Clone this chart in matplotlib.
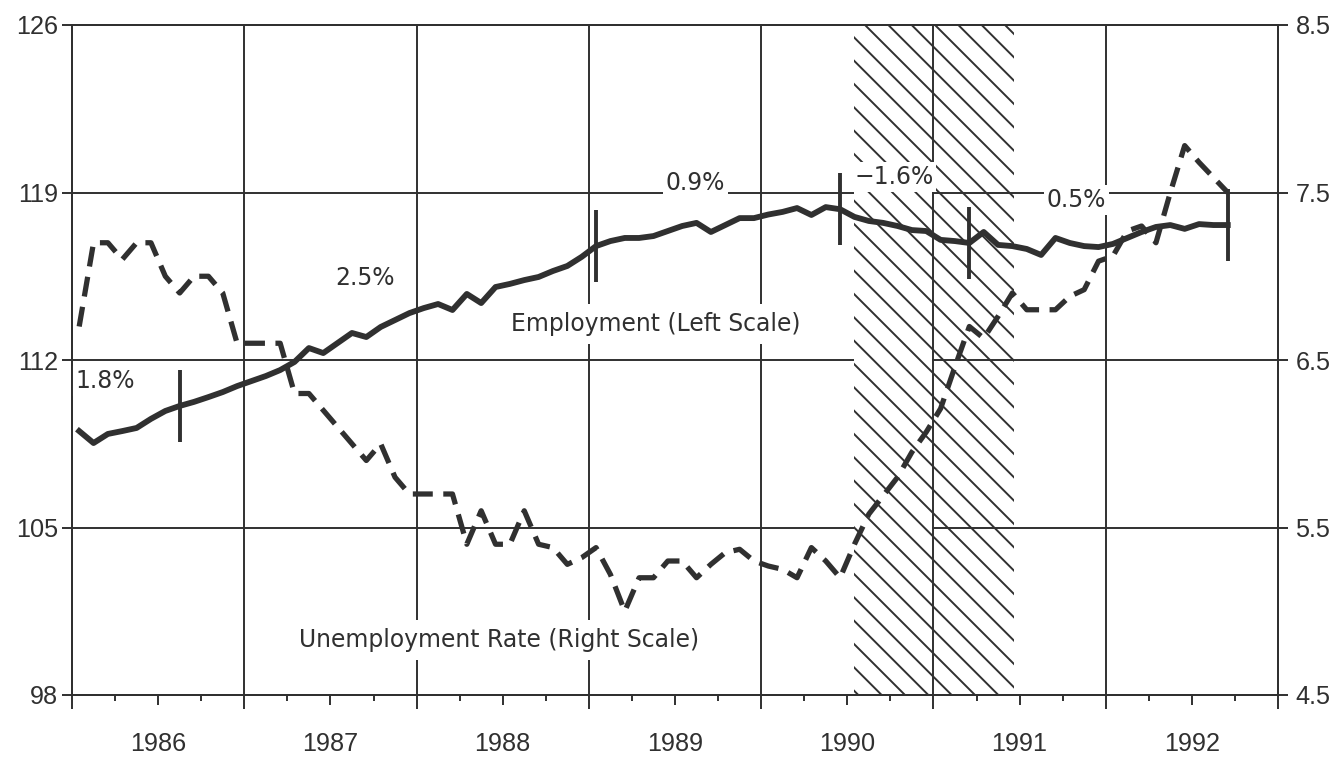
import numpy as np
import pandas as pd
import matplotlib
matplotlib.use("Agg")
import matplotlib.pyplot as plt
from matplotlib.ticker import NullFormatter, FormatStrFormatter

# civilian employment, millions (left scale), Jan 1986 - Sep 1992
emp_1986 = [109.03, 108.53, 108.91, 109.03, 109.16, 109.54, 109.87, 110.08, 110.25, 110.45, 110.66, 110.91]
emp_1987 = [111.12, 111.33, 111.58, 111.92, 112.50, 112.29, 112.71, 113.13, 112.96, 113.38, 113.67, 113.96]
emp_1988 = [114.17, 114.34, 114.09, 114.76, 114.38, 115.05, 115.18, 115.34, 115.47, 115.72, 115.93, 116.31]
emp_1989 = [116.76, 116.97, 117.10, 117.10, 117.18, 117.39, 117.60, 117.73, 117.35, 117.64, 117.93, 117.93]
emp_1990 = [118.08, 118.19, 118.35, 118.06, 118.39, 118.30, 117.98, 117.81, 117.73, 117.60, 117.43, 117.39]
emp_1991 = [117.02, 116.97, 116.89, 117.35, 116.81, 116.76, 116.64, 116.39, 117.10, 116.89, 116.76, 116.72]
emp_1992 = [116.85, 117.10, 117.35, 117.56, 117.64, 117.48, 117.68, 117.64, 117.64]

# unemployment rate, percent (right scale)
unemp_1986 = [6.7, 7.2, 7.2, 7.1, 7.2, 7.2, 7.0, 6.9, 7.0, 7.0, 6.9, 6.6]
unemp_1987 = [6.6, 6.6, 6.6, 6.3, 6.3, 6.2, 6.1, 6.0, 5.9, 6.0, 5.8, 5.7]
unemp_1988 = [5.7, 5.7, 5.7, 5.4, 5.6, 5.4, 5.4, 5.6, 5.4, 5.38, 5.28, 5.32]
unemp_1989 = [5.38, 5.22, 5.0, 5.2, 5.2, 5.3, 5.3, 5.2, 5.28, 5.35, 5.37, 5.3]
unemp_1990 = [5.27, 5.25, 5.2, 5.38, 5.3, 5.2, 5.4, 5.58, 5.69, 5.8, 5.95, 6.07]
unemp_1991 = [6.21, 6.46, 6.7, 6.63, 6.76, 6.9, 6.8, 6.8, 6.8, 6.88, 6.92, 7.09]
unemp_1992 = [7.12, 7.27, 7.3, 7.2, 7.5, 7.78, 7.68, 7.59, 7.5]

# period break points and average growth rates of employment between them
break_months = ["1986-08", "1989-01", "1990-06", "1991-03", "1992-09"]
growth_labels = ["1.8%", "2.5%", "0.9%", "\u22121.6%", "0.5%"]
growth_pos_x = [1986.19, 1987.70, 1989.62, 1990.77, 1991.83]
growth_pos_y = [111.12, 115.43, 119.40, 119.65, 118.69]

recession = (1990.54, 1991.47)
years = list(range(1986, 1993))
left_ticks = [98, 105, 112, 119, 126]
right_ticks = [4.5, 5.5, 6.5, 7.5, 8.5]

ink = "#303030"


def main() -> None:
    employment = emp_1986 + emp_1987 + emp_1988 + emp_1989 + emp_1990 + emp_1991 + emp_1992
    unemployment = unemp_1986 + unemp_1987 + unemp_1988 + unemp_1989 + unemp_1990 + unemp_1991 + unemp_1992

    dates = pd.date_range("1986-01-01", periods=len(employment), freq="MS")
    x = dates.year + (dates.month - 0.5) / 12
    emp = pd.Series(employment, index=dates.strftime("%Y-%m"))
    xs = pd.Series(np.asarray(x), index=emp.index)

    plt.rcParams["font.family"] = ["Liberation Sans", "DejaVu Sans"]
    plt.rcParams["hatch.linewidth"] = 1.0

    fig = plt.figure(figsize=(1336 / 140, 760 / 140), dpi=140)
    ax = fig.add_axes([72 / 1336, 1 - 695 / 760, 1206 / 1336, 670 / 760])
    ax.set_xlim(years[0], years[-1] + 1)
    ax.set_ylim(left_ticks[0], left_ticks[-1])

    # recession band: left part hides the grid, right part sits under it
    ax.axvspan(recession[0], 1990.99, facecolor="white", edgecolor=ink,
               hatch="\\\\", linewidth=0, zorder=1.2)
    ax.axvspan(1990.99, recession[1], facecolor="white", edgecolor=ink,
               hatch="\\\\", linewidth=0, zorder=0.2)

    ax.plot(x, employment, color=ink, lw=3.0, solid_joinstyle="round", zorder=3)
    ax.plot(xs[break_months], emp[break_months], linestyle="none", marker="|",
            markersize=37, markeredgewidth=2.0, color=ink, zorder=3)

    ax2 = ax.twinx()
    ax2.set_ylim(right_ticks[0], right_ticks[-1])
    ax2.plot(x, unemployment, color=ink, lw=2.7, dashes=(3.8, 2.0), zorder=3)

    # axes, ticks, grid
    ax.set_yticks(left_ticks)
    ax2.set_yticks(right_ticks)
    ax2.yaxis.set_major_formatter(FormatStrFormatter("%.1f"))
    ax.set_xticks([y + 0.5 for y in years], labels=[str(y) for y in years])
    ax.set_xticks(years + [years[-1] + 1], minor=True)
    ax.grid(which="major", axis="y", color=ink, lw=1.0)
    ax.grid(which="minor", axis="x", color=ink, lw=1.0)
    ax.set_axisbelow(True)

    ax.tick_params(axis="x", which="major", length=5, width=1, color=ink,
                   pad=14, labelsize=13, labelcolor=ink)
    ax.tick_params(axis="x", which="minor", length=7, width=1, color=ink)
    ax.tick_params(axis="y", length=5, width=1, color=ink, pad=2,
                   labelsize=13, labelcolor=ink)
    ax2.tick_params(axis="y", length=5, width=1, color=ink, pad=4,
                    labelsize=13, labelcolor=ink)

    quarters = ax.secondary_xaxis("bottom")
    quarters.set_xticks([y + q for y in years for q in (0.25, 0.75)])
    quarters.xaxis.set_major_formatter(NullFormatter())
    quarters.tick_params(length=3, width=1, color=ink)
    quarters.spines["bottom"].set_visible(False)

    for a in (ax, ax2):
        for sp in a.spines.values():
            sp.set_color(ink)
            sp.set_linewidth(1.0)

    # annotations
    txt = dict(family=["DejaVu Sans"], fontsize=12.1, color=ink,
               ha="center", va="center", zorder=6)
    for label, gx, gy in zip(growth_labels, growth_pos_x, growth_pos_y):
        ax.text(gx, gy, label, bbox=dict(facecolor="white", edgecolor="none", pad=1.5), **txt)
    ax.text(1989.39, 113.5, "Employment (Left Scale)",
            bbox=dict(facecolor="white", edgecolor="none", pad=4), **txt)
    ax.text(1988.48, 100.3, "Unemployment Rate (Right Scale)",
            bbox=dict(facecolor="white", edgecolor="none", pad=4), **txt)

    fig.savefig("out.png", dpi=140, facecolor="white")
    plt.close(fig)


if __name__ == "__main__":
    main()
